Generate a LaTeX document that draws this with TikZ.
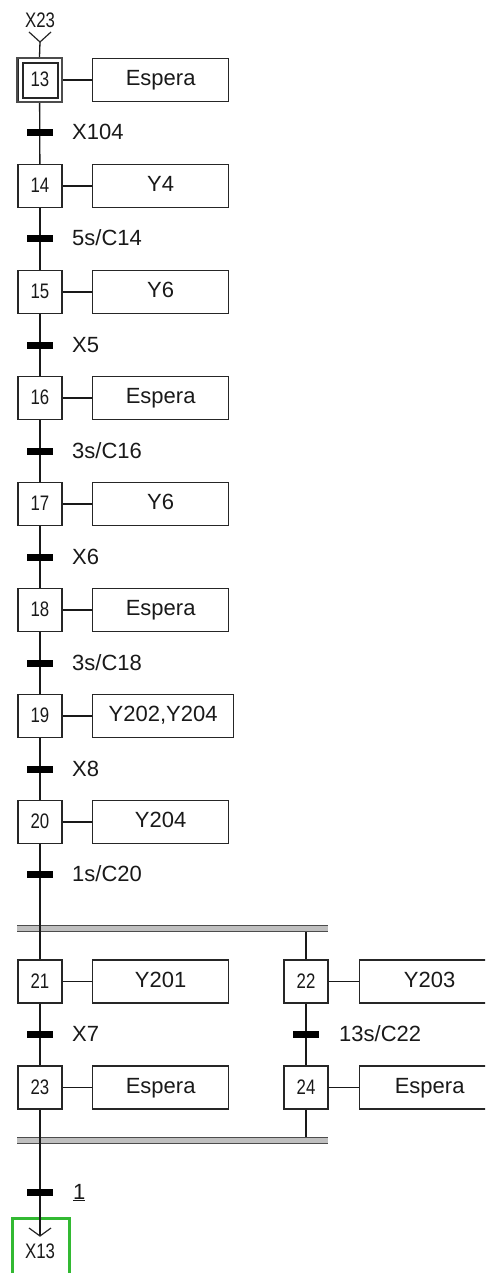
\documentclass[tikz,border=0pt]{standalone}
\usepackage{fontspec}
\setmainfont{Liberation Sans}
\usepackage{graphicx}
\newcommand\lblfont{\fontsize{22}{22}\selectfont}
\newcommand\numfont{\fontsize{21}{21}\selectfont}
\newcommand\narrow[1]{\scalebox{0.8}[1]{#1}}
\definecolor{gboxcol}{RGB}{50,185,50}
\begin{document}
\begin{tikzpicture}[x=1pt,y=-1pt,
  line/.style={draw=black!90, line width=1.3pt},
  stepbox/.style={draw=black!85, line width=1.3pt, minimum width=44pt, minimum height=43pt,
    inner sep=0pt, font=\numfont, text height=15pt, text depth=2pt, text=black!90},
  actbox/.style={draw=black!85, line width=1.3pt, minimum height=43pt, minimum width=136pt,
    inner sep=0pt, anchor=west, font=\lblfont, text height=16pt, text depth=4.5pt, text=black!90},
  trans/.style={fill=black, minimum width=26pt, minimum height=7pt, inner sep=0pt},
  tlabel/.style={anchor=west, font=\lblfont, inner sep=0pt, text height=16pt, text depth=0pt, text=black!90},
  varm/.style={draw=black!85, line width=1.2pt},
  parbar/.style={fill=gray!50},
  paredge/.style={draw=gray!60!black, line width=1.5pt}
]
\useasboundingbox (0,0) rectangle (485,1273);
\clip (0,0) rectangle (485,1273);

% ---- steps 13..20 with actions
\foreach \n/\y/\a/\w in {13/80/Espera/136, 14/186/Y4/136, 15/292/Y6/136, 16/398/Espera/136,
  17/504/Y6/136, 18/610/Espera/136, 19/716/{Y202,Y204}/141, 20/822/Y204/136}{
  \node[stepbox] (s\n) at (40,\y) {\narrow{\n}};
  \node[actbox, minimum width=\w pt] (a\n) at (92,\y) {\a};
  \draw[line] (s\n) -- (a\n);
}
% initial step: double frame
\node[draw=black!70, line width=2.4pt, minimum width=45pt, minimum height=44pt] (s13o) at (39.5,80) {};
\node[draw=black!85, line width=1.3pt, minimum width=35pt, minimum height=35pt] (s13i) at (40.5,80.5) {};

% ---- top entry
\node[font=\numfont, inner sep=0pt, text=black!90] (x23) at (40,20) {\narrow{X23}};
\coordinate (topv) at (40,42);
\coordinate (topl) at (29,32);
\coordinate (topr) at (51,32);
\draw[line] (s13o.north) -- (topv);
\draw[varm] (topl) -- (topv) -- (topr);

% ---- parallel branches
\fill[parbar] (17,925) rectangle (328,932);
\draw[paredge] (17,925.7) -- (328,925.7);
\draw[paredge] (17,931.3) -- (328,931.3);
\fill[parbar] (17,1137) rectangle (328,1144);
\draw[paredge] (17,1137.7) -- (328,1137.7);
\draw[paredge] (17,1143.3) -- (328,1143.3);
\coordinate (d2) at (306,932);
\coordinate (c2) at (306,1137);

\node[stepbox] (s21) at (40,981.5) {\narrow{21}};
\node[actbox] (a21) at (92,981.5) {Y201};
\node[stepbox] (s22) at (306,981.5) {\narrow{22}};
\node[actbox, minimum width=140pt] (a22) at (359,981.5) {Y203};
\node[stepbox] (s23) at (40,1087.5) {\narrow{23}};
\node[actbox] (a23) at (92,1087.5) {Espera};
\node[stepbox] (s24) at (306,1087.5) {\narrow{24}};
\node[actbox, minimum width=140pt] (a24) at (359,1087.5) {Espera};
\foreach \n in {21,22,23,24}{\draw[line] (s\n) -- (a\n);}

% ---- vertical links
\draw[line] (s13o) -- (s14);
\draw[line] (s14) -- (s15);
\draw[line] (s15) -- (s16);
\draw[line] (s16) -- (s17);
\draw[line] (s17) -- (s18);
\draw[line] (s18) -- (s19);
\draw[line] (s19) -- (s20);
\draw[line] (s20) -- (s21);
\draw[line] (d2) -- (s22);
\draw[line] (s21) -- (s23);
\draw[line] (s22) -- (s24);
\draw[line] (s24) -- (c2);

% ---- end: green jump box
\node[draw=gboxcol, line width=3pt, minimum width=57pt, minimum height=74pt, inner sep=0pt] (gbox) at (41,1255) {};
\node[font=\numfont, inner sep=0pt, text=black!90] (x13) at (40,1251) {\narrow{X13}};
\coordinate (endv) at (40,1236);
\coordinate (endl) at (29,1228);
\coordinate (endr) at (51,1228);
\draw[line] (s23) -- (endv);
\draw[varm] (endl) -- (endv) -- (endr);

% ---- transitions
\node[trans] (t13) at (40,133) {};
\node[tlabel] (l13) at (72,132) {X104};
\node[trans] (t14) at (40,239) {};
\node[tlabel] (l14) at (72,238) {5s/C14};
\node[trans] (t15) at (40,345) {};
\node[tlabel] (l15) at (72,344) {X5};
\node[trans] (t16) at (40,451) {};
\node[tlabel] (l16) at (72,450) {3s/C16};
\node[trans] (t17) at (40,557) {};
\node[tlabel] (l17) at (72,556) {X6};
\node[trans] (t18) at (40,663) {};
\node[tlabel] (l18) at (72,662) {3s/C18};
\node[trans] (t19) at (40,769) {};
\node[tlabel] (l19) at (72,768) {X8};
\node[trans] (t20) at (40,874) {};
\node[tlabel] (l20) at (72,873) {1s/C20};
\node[trans] (t21) at (40,1034) {};
\node[tlabel] (l21) at (72,1033) {X7};
\node[trans] (t22) at (306,1034) {};
\node[tlabel] (l22) at (339,1033) {13s/C22};
\node[trans] (t23) at (40,1192) {};
\node[tlabel] (l23) at (73,1191) {\underline{1}};
\end{tikzpicture}
\end{document}
